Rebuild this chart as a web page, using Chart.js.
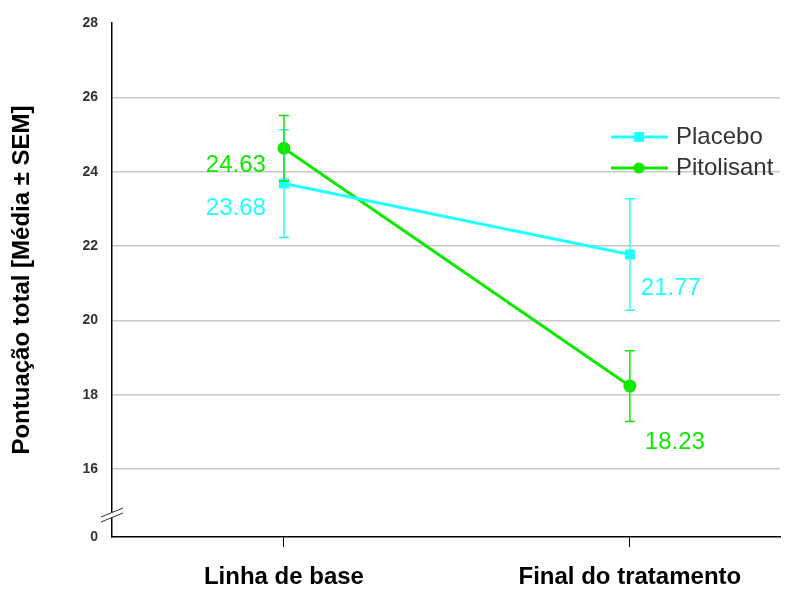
<!DOCTYPE html>
<html>
<head>
<meta charset="utf-8">
<script src="https://cdn.jsdelivr.net/npm/chart.js@4"></script>
<style>
  html, body { margin: 0; padding: 0; background: #fff; }
  canvas { display: block; }
</style>
</head>
<body>
<canvas id="chart" width="795" height="589"></canvas>
<script>
// Categories and values
const categories = ["Linha de base", "Final do tratamento"]
const placeboMean = [23.68, 21.77]
const placeboSem = [1.45, 1.5]
const pitolisantMean = [24.63, 18.23]
const pitolisantSem = [0.88, 0.95]
const yTicks = [16, 18, 20, 22, 24, 26, 28]
const yBreakValue = 14.17 // bottom of the broken axis, labelled "0"

const cyan = "#22ffff"
const green = "#11e800"
const fontFamily = "'Liberation Sans', Arial, sans-serif"

// label offsets (px) from each point: [dx, dy, align]
const labelOffsets = {
  Placebo: [[-18, 25, "right"], [11, 34, "left"]],
  Pitolisant: [[-18, 17, "right"], [15, 56, "left"]],
}

const toPoints = (arr) => arr.map((v, i) => ({ x: i, y: v }))

// Draws SEM whiskers, value labels, axis break and legend
const extrasPlugin = {
  id: "extras",
  afterDatasetsDraw: (chart) => {
    const ctx = chart.ctx
    const xs = chart.scales.x
    const ys = chart.scales.y
    ctx.save()
    chart.data.datasets.forEach((ds) => {
      ds.data.forEach((p, i) => {
        const x = xs.getPixelForValue(p.x)
        const top = ys.getPixelForValue(p.y + ds.sem[i])
        const bot = ys.getPixelForValue(p.y - ds.sem[i])
        ctx.strokeStyle = ds.borderColor
        ctx.lineWidth = 1.5
        ctx.beginPath()
        ctx.moveTo(x, top); ctx.lineTo(x, bot)
        ctx.moveTo(x - 5, top); ctx.lineTo(x + 5, top)
        ctx.moveTo(x - 5, bot); ctx.lineTo(x + 5, bot)
        ctx.stroke()

        const [dx, dy, align] = labelOffsets[ds.label][i]
        ctx.fillStyle = ds.borderColor
        ctx.font = `24px ${fontFamily}`
        ctx.textAlign = align
        ctx.textBaseline = "middle"
        ctx.fillText(p.y.toFixed(2), x + dx, ys.getPixelForValue(p.y) + dy)
      })
    })

    // axis break marks
    const ax = chart.chartArea.left
    const by = 516
    ctx.fillStyle = "#fff"
    ctx.beginPath()
    ctx.moveTo(ax - 11, by + 1); ctx.lineTo(ax + 11, by - 8)
    ctx.lineTo(ax + 11, by - 3); ctx.lineTo(ax - 11, by + 6)
    ctx.closePath()
    ctx.fill()
    ctx.strokeStyle = "#333"
    ctx.lineWidth = 1
    ctx.beginPath()
    ctx.moveTo(ax - 11, by + 1); ctx.lineTo(ax + 11, by - 8)
    ctx.moveTo(ax - 11, by + 6); ctx.lineTo(ax + 11, by - 3)
    ctx.stroke()

    // legend
    const lx = 611
    let ly = 137
    chart.data.datasets.forEach((ds) => {
      ctx.strokeStyle = ds.borderColor
      ctx.lineWidth = 3
      ctx.beginPath()
      ctx.moveTo(lx, ly); ctx.lineTo(lx + 57, ly)
      ctx.stroke()
      ctx.fillStyle = ds.borderColor
      if (ds.pointStyle === "rect") {
        ctx.fillRect(lx + 23, ly - 5, 10, 10)
      } else {
        ctx.beginPath()
        ctx.arc(lx + 28, ly, 5.5, 0, Math.PI * 2)
        ctx.fill()
      }
      ctx.fillStyle = "#333"
      ctx.font = `24px ${fontFamily}`
      ctx.textAlign = "left"
      ctx.textBaseline = "middle"
      ctx.fillText(ds.label, lx + 65, ly)
      ly += 31
    })
    ctx.restore()
  },
}

new Chart(document.getElementById("chart"), {
  type: "line",
  data: {
    datasets: [
      {
        label: "Placebo",
        data: toPoints(placeboMean),
        sem: placeboSem,
        borderColor: cyan,
        backgroundColor: cyan,
        borderWidth: 3,
        pointStyle: "rect",
        pointRadius: 5,
      },
      {
        label: "Pitolisant",
        data: toPoints(pitolisantMean),
        sem: pitolisantSem,
        borderColor: green,
        backgroundColor: green,
        borderWidth: 3,
        pointStyle: "circle",
        pointRadius: 5,
      },
    ],
  },
  options: {
    responsive: false,
    animation: false,
    layout: { padding: { top: 23, right: 15, left: 0, bottom: 0 } },
    plugins: { legend: { display: false }, tooltip: { enabled: false } },
    scales: {
      x: {
        type: "linear",
        min: -0.497,
        max: 1.434,
        afterBuildTicks: (scale) => { scale.ticks = categories.map((_, i) => ({ value: i })) },
        afterFit: (scale) => { scale.height = 52 },
        ticks: {
          callback: (v) => categories[v],
          color: "#000",
          padding: 16,
          font: { family: fontFamily, size: 24, weight: "bold" },
        },
        grid: { drawOnChartArea: false, drawTicks: true, tickLength: 10, color: "#000" },
        border: { color: "#000", width: 1.5 },
      },
      y: {
        min: yBreakValue,
        max: 28,
        afterBuildTicks: (scale) => {
          scale.ticks = [yBreakValue, ...yTicks].map((v) => ({ value: v }))
        },
        afterFit: (scale) => { scale.width = 112 },
        ticks: {
          callback: (v) => (v < yTicks[0] ? "0" : v),
          color: "#333",
          padding: 14,
          font: { family: fontFamily, size: 14, weight: "bold" },
        },
        grid: {
          drawTicks: false,
          color: (c) => (c.tick && (c.tick.value === 28 || c.tick.value < yTicks[0]) ? "rgba(0,0,0,0)" : "#c8c8c8"),
          lineWidth: 1.5,
        },
        border: { color: "#000", width: 1.5 },
        title: {
          display: true,
          text: "Pontuação total [Média ± SEM]",
          color: "#000",
          padding: { top: 8, bottom: 0 },
          font: { family: fontFamily, size: 24, weight: "bold" },
        },
      },
    },
  },
  plugins: [extrasPlugin],
})
</script>
</body>
</html>
